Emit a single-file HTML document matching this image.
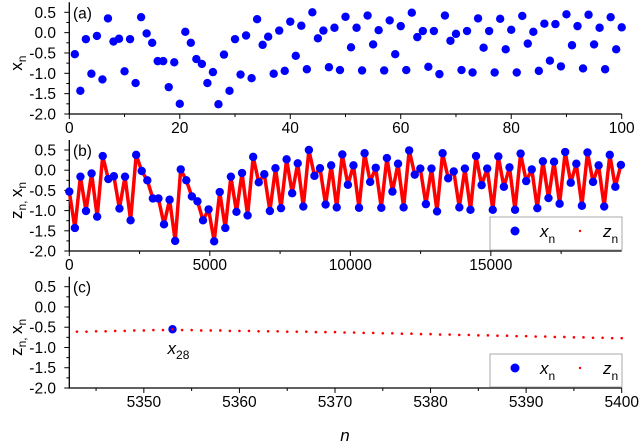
<!DOCTYPE html>
<html><head><meta charset="utf-8"><style>
html,body{margin:0;padding:0;background:#fff;}
svg{display:block;font-family:"Liberation Sans",Arial,sans-serif;}
</style></head><body>
<svg id="chart" width="640" height="447" viewBox="0 0 640 447" xmlns="http://www.w3.org/2000/svg"></svg>
<script>
// x_n values for n = 1..100 (panel a)
const xnValues = [-0.53,-1.43,-0.16,-1.01,-0.08,-1.15,0.35,-0.22,-0.15,-0.95,
-0.16,-1.24,0.38,-0.02,-0.25,-0.70,-0.70,-1.34,-0.73,-1.75,
0.02,-0.25,-0.65,-0.77,-1.24,-0.97,-1.76,-0.54,-1.43,-0.16,
-1.03,-0.07,-1.12,0.33,-0.30,-0.10,-1.01,0.05,-0.94,0.27,
-0.57,0.17,-0.90,0.50,-0.14,0.05,-0.85,0.12,-0.92,0.39,
-0.36,0.12,-0.93,0.42,-0.29,0.06,-0.93,0.30,-0.53,0.16,
-0.92,0.49,-0.11,0.04,-0.84,0.04,-1.02,0.42,-0.20,-0.03,
-0.92,0.04,-0.98,0.35,-0.37,0.04,-0.98,0.34,-0.41,0.07,
-0.98,0.41,-0.27,0.02,-0.94,0.22,-0.69,0.21,-0.83,0.45,
-0.31,0.16,-0.88,0.44,-0.29,0.12,-0.90,0.38,-0.41,0.13];
// spacing in continuous time n of the x_k samples (panel b)
const sampleStep = 198.26;
// panel c: z_n for n = 5343..5400
const zStart = 5343;
const zValues = [-0.61,-0.61,-0.60,-0.60,-0.59,-0.59,-0.58,-0.58,-0.57,-0.57,-0.56,
-0.57,-0.57,-0.58,-0.58,-0.58,-0.59,-0.59,-0.59,-0.60,
-0.60,-0.60,-0.61,-0.61,-0.61,-0.62,-0.62,-0.62,
-0.63,-0.63,-0.64,-0.64,-0.65,-0.65,-0.66,-0.66,-0.67,-0.67,
-0.68,-0.68,-0.69,-0.69,-0.70,-0.70,-0.71,-0.71,-0.72,-0.72,
-0.73,-0.73,-0.74,-0.74,-0.75,-0.75,-0.76,-0.76,-0.77,-0.77];
const x28Pos = [5353, -0.55];
const yTicks = [0.5,0.0,-0.5,-1.0,-1.5,-2.0];
const xTicksA = [0,20,40,60,80,100];
const xTicksB = [0,5000,10000,15000];
const xTicksC = [5350,5360,5370,5380,5390,5400];

const svg = document.getElementById('chart');
const NS = 'http://www.w3.org/2000/svg';
const R = 4.2;
function mk(tag, attrs, parent){
  const e = document.createElementNS(NS, tag);
  for (const k in attrs) e.setAttribute(k, attrs[k]);
  (parent||svg).appendChild(e);
  return e;
}
const X0 = 69.3, X1 = 621.7;
function panel(cfg){
  const g = mk('g', {});
  
  
  const sx = v => X0 + (v - cfg.xmin) / (cfg.xmax - cfg.xmin) * (X1 - X0);
  const sy = v => cfg.ytop + (0.5 - v) / 2.5 * (cfg.ybot - cfg.ytop);
  const ax = mk('path', {d:`M${X0} ${cfg.ytop-10}V${cfg.ybot}H${X1}`, stroke:'#000', 'stroke-width':1.3, fill:'none'}, g);
  
  
  for (let v = 0.5; v >= -2.0001; v -= 0.25) {
    const major = Math.abs(v*2 - Math.round(v*2)) < 1e-6;
    mk('line', {x1:X0-(major?5:3), x2:X0, y1:sy(v), y2:sy(v), stroke:'#000', 'stroke-width':1}, g);
  }
  yTicks.forEach(v => {
    const t = mk('text', {x:56, y:sy(v)+5.5, 'text-anchor':'end', 'font-size':15.5, fill:'#000'}, g);
    t.textContent = v.toFixed(1);
    
    
  });
  cfg.xticks.forEach((v,i) => {
    mk('line', {x1:sx(v), x2:sx(v), y1:cfg.ybot, y2:cfg.ybot+5, stroke:'#000', 'stroke-width':1}, g);
    const t = mk('text', {x:sx(v), y:cfg.ybot+19, 'text-anchor':'middle', 'font-size':15.5, fill:'#000'}, g);
    t.textContent = String(v);
    
    
    if (i < cfg.xticks.length - 1 || cfg.minorAfter) {
      const m = v + cfg.minor;
      if (m <= cfg.xmax) mk('line', {x1:sx(m), x2:sx(m), y1:cfg.ybot, y2:cfg.ybot+3, stroke:'#000', 'stroke-width':1}, g);
    }
  });
  if (cfg.minorBefore) {
    const m = cfg.xticks[0] - cfg.minor;
    if (m >= cfg.xmin) mk('line', {x1:sx(m), x2:sx(m), y1:cfg.ybot, y2:cfg.ybot+3, stroke:'#000', 'stroke-width':1}, g);
  }
  const pl = mk('text', {x:73, y:cfg.ytop+6, 'font-size':15.5, fill:'#000'}, g);
  pl.textContent = cfg.letter;
  
  
  const yt = mk('text', {transform:`translate(22 ${(cfg.ytop+cfg.ybot)/2}) rotate(-90)`, 'text-anchor':'middle', 'font-size':17, fill:'#000'}, g);
  
  
  if (cfg.zx) {
    yt.innerHTML = 'z<tspan font-size="12" dy="4">n, </tspan><tspan dy="-4">x</tspan><tspan font-size="12" dy="4">n</tspan>';
  } else {
    yt.innerHTML = 'x<tspan font-size="12" dy="4">n</tspan>';
  }
  return {g, sx, sy};
}

const A = panel({name:'panel-a', letter:'(a)', xmin:0, xmax:100, ytop:12.3, ybot:114, xticks:xTicksA, minor:10});
xnValues.forEach((v,i) => {
  const c = mk('circle', {cx:A.sx(i+1), cy:A.sy(v), r:R, fill:'#0000ff'}, A.g);
  
  
});

const B = panel({name:'panel-b', letter:'(b)', xmin:0, xmax:19656, ytop:150, ybot:251, xticks:xTicksB, minor:2500, minorAfter:true, zx:true});
const pts = xnValues.map((v,i) => `${B.sx(i*sampleStep).toFixed(1)},${B.sy(v).toFixed(1)}`).join(' ');
const zl = mk('polyline', {points:pts, fill:'none', stroke:'#ff0000', 'stroke-width':3.5, 'stroke-linejoin':'round'}, B.g);


xnValues.forEach((v,i) => {
  const c = mk('circle', {cx:B.sx(i*sampleStep), cy:B.sy(v), r:R, fill:'#0000ff'}, B.g);
  
  
});

const C = panel({name:'panel-c', letter:'(c)', xmin:5342.2, xmax:5400, ytop:286.7, ybot:388, xticks:xTicksC, minor:5, minorBefore:true, zx:true});
zValues.forEach((v,i) => {
  const c = mk('circle', {cx:C.sx(zStart+i), cy:C.sy(v), r:1.3, fill:'#ff0000'}, C.g);
  
  
});
const x28 = mk('circle', {cx:C.sx(x28Pos[0]), cy:C.sy(x28Pos[1]), r:R, fill:'#0000ff'}, C.g);


mk('circle', {cx:C.sx(x28Pos[0]), cy:C.sy(x28Pos[1]), r:1.2, fill:'#ff0000'}, C.g);
const x28l = mk('text', {x:C.sx(x28Pos[0])-5, y:C.sy(x28Pos[1])+25, 'font-size':17, 'font-style':'italic', fill:'#000'}, C.g);
x28l.innerHTML = 'x<tspan font-size="12" font-style="normal" dy="5">28</tspan>';



function legend(y, name){
  const g = mk('g', {});
  
  
  mk('rect', {x:490, y:y, width:132, height:33, fill:'#fff', stroke:'#aaa', 'stroke-width':1}, g);
  mk('circle', {cx:515, cy:y+14, r:4.5, fill:'#0000ff'}, g);
  const t1 = mk('text', {x:540, y:y+20, 'font-size':17, 'font-style':'italic', fill:'#000'}, g);
  t1.innerHTML = 'x<tspan font-size="12" font-style="normal" dy="6">n</tspan>';
  
  
  mk('circle', {cx:580, cy:y+14, r:1.2, fill:'#ff0000'}, g);
  const t2 = mk('text', {x:603, y:y+20, 'font-size':17, 'font-style':'italic', fill:'#000'}, g);
  t2.innerHTML = 'z<tspan font-size="12" font-style="normal" dy="6">n</tspan>';
  
  
}
legend(217, 'legend-b');
legend(354, 'legend-c');

const xt = mk('text', {x:345, y:441, 'text-anchor':'middle', 'font-size':17, 'font-style':'italic', fill:'#000'});
xt.textContent = 'n';


</script>
</body></html>
